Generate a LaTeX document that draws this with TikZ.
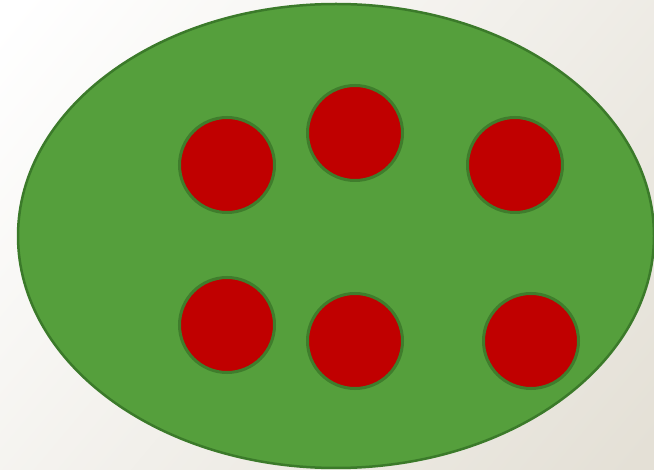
\documentclass[tikz,border=0pt]{standalone}
\begin{document}
\begin{tikzpicture}[x=1pt,y=-1pt,
  bigoval/.style={fill=ovalgreen,draw=ovaledge,line width=2.5pt},
  dot/.style={circle,minimum size=95pt,inner sep=0pt,fill=dotred,draw=dotedge,line width=3pt}]
\definecolor{ovalgreen}{HTML}{559F3C}
\definecolor{ovaledge}{HTML}{3B7A2A}
\definecolor{dotred}{HTML}{C00000}
\definecolor{dotedge}{HTML}{3F7D2C}
\definecolor{bgend}{HTML}{E4E0D6}
\useasboundingbox (0,0) rectangle (654,470);
\begin{scope}
\clip (0,0) rectangle (654,470);
\shade[shading=axis,left color=white,right color=bgend,shading angle=50] (-100,-100) rectangle (754,570);
\fill[bigoval] (336,236) ellipse [x radius=318, y radius=232];
\end{scope}
\node[dot] (a) at (227,165) {};
\node[dot] (b) at (355,133) {};
\node[dot] (c) at (515,165) {};
\node[dot] (d) at (227,325) {};
\node[dot] (e) at (355,341) {};
\node[dot] (f) at (531,341) {};
\end{tikzpicture}
\end{document}
